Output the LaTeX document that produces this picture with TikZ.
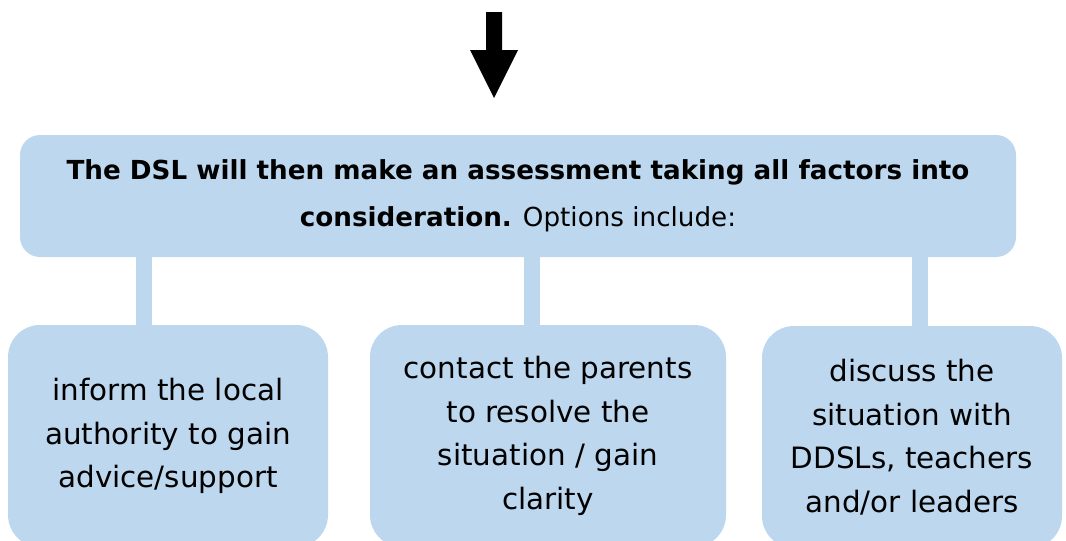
\documentclass[tikz,border=0pt]{standalone}
\usepackage{fontspec}
\setmainfont{DejaVu Sans}
\definecolor{boxblue}{RGB}{189,215,238}
\begin{document}
\begin{tikzpicture}[x=1pt,y=-1pt,
  box/.style={fill=boxblue,draw=none,align=center,inner sep=0pt},
  topbox/.style={box,rounded corners=20pt,minimum width=996pt,minimum height=122pt,
     font=\fontsize{26.2}{47}\selectfont},
  optbox/.style={box,rounded corners=32pt,minimum height=222pt,
     font=\fontsize{29.4}{43.5}\selectfont},
  conn/.style={draw=boxblue,line width=16pt}]
\useasboundingbox (0,0) rectangle (1066,541);
\clip (0,0) rectangle (1066,541);
% arrow
\fill[black] (486,12) -- (502,12) -- (502,50) -- (518,50) -- (494,98) -- (470,50) -- (486,50) -- cycle;
% top box
\node[topbox] (top) at (518,196) {\textbf{The DSL will then make an assessment taking all factors into}\\\textbf{consideration.} Options include:};
% option boxes
\node[optbox,minimum width=320pt] (l) at (168,436) {inform the local\\authority to gain\\advice/support};
\node[optbox,minimum width=356pt] (m) at (548,436) {contact the parents\\to resolve the\\situation / gain\\clarity};
\node[optbox,minimum width=300pt] (r) at (912,437) {discuss the\\situation with\\DDSLs, teachers\\and/or leaders};
% connectors
\draw[conn] ([xshift=-24pt]l.north) -- ([xshift=-24pt]l.north |- top.south);
\draw[conn] ([xshift=-16pt]m.north) -- ([xshift=-16pt]m.north |- top.south);
\draw[conn] ([xshift=8pt]r.north) -- ([xshift=8pt]r.north |- top.south);
\end{tikzpicture}
\end{document}
